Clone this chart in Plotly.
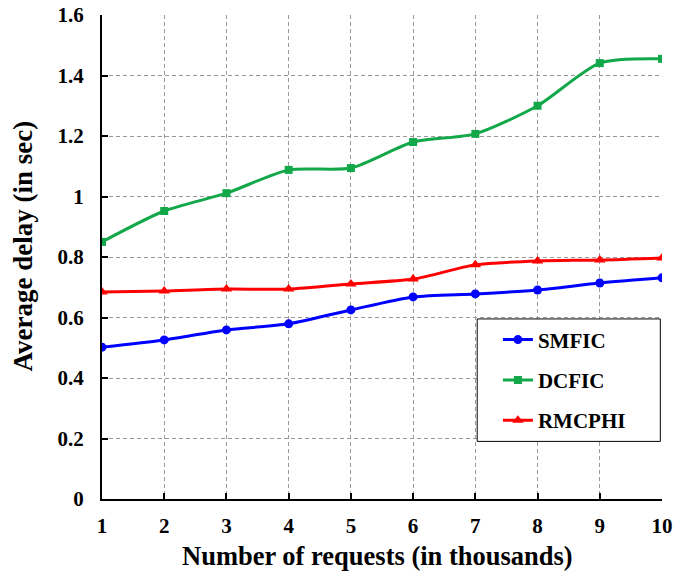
import plotly.graph_objects as go

requests_k = [1, 2, 3, 4, 5, 6, 7, 8, 9, 10]
smfic = [0.502, 0.526, 0.559, 0.579, 0.625, 0.668, 0.678, 0.691, 0.714, 0.731]
dcfic = [0.850, 0.952, 1.011, 1.088, 1.094, 1.180, 1.207, 1.300, 1.441, 1.455]
rmcphi = [0.684, 0.688, 0.694, 0.694, 0.711, 0.727, 0.774, 0.787, 0.790, 0.797]
y_ticks = [0, 0.2, 0.4, 0.6, 0.8, 1.0, 1.2, 1.4, 1.6]
y_tick_text = ["0", "0.2", "0.4", "0.6", "0.8", "1", "1.2", "1.4", "1.6"]

FONT = "Liberation Serif"

series = [
    ("SMFIC", smfic, "#0000ff", "circle", 9),
    ("DCFIC", dcfic, "#12a84a", "square", 8),
    ("RMCPHI", rmcphi, "#ff0000", "triangle-up", 10),
]

fig = go.Figure()
for name, vals, color, symbol, msize in series:
    fig.add_trace(go.Scatter(
        x=requests_k, y=vals, name=f"<b>{name}</b>", legendgroup=name,
        mode="lines+markers",
        line=dict(color=color, width=3, shape="spline", smoothing=0.7),
        marker=dict(symbol=symbol, size=msize, color=color),
    ))

# framed box behind the legend entries
fig.add_shape(
    type="rect", xref="paper", yref="paper",
    x0=0.67, x1=0.997, y0=0.119, y1=0.372,
    line=dict(color="black", width=1), fillcolor="white", layer="above",
)

# axis titles as annotations
fig.add_annotation(
    text="<b>Number of requests (in thousands)</b>",
    xref="paper", yref="paper", x=0.492, y=-0.118,
    xanchor="center", yanchor="middle", showarrow=False,
    font=dict(family=FONT, size=26.5, color="black"),
)
fig.add_annotation(
    text="<b>Average delay (in sec)</b>", textangle=-90,
    xref="paper", yref="paper", x=-0.141, y=0.522,
    xanchor="center", yanchor="middle", showarrow=False,
    font=dict(family=FONT, size=27, color="black"),
)

axis_font = dict(family=FONT, size=21, color="black")
grid_style = dict(showgrid=True, gridcolor="#9a9a9a", griddash="4px,3px", gridwidth=1)
fig.update_layout(
    width=691, height=572,
    margin=dict(l=102, r=29, t=15, b=73),
    paper_bgcolor="white", plot_bgcolor="white",
    font=dict(family=FONT, color="black"),
    showlegend=True,
    legend=dict(
        x=0.707, y=0.371, xanchor="left", yanchor="top",
        bgcolor="rgba(0,0,0,0)", borderwidth=0,
        font=dict(family=FONT, size=21, color="black"),
        tracegroupgap=10,
    ),
    xaxis=dict(
        range=[1, 10], tickvals=requests_k,
        ticktext=[f"<b>{v}</b>" for v in requests_k],
        tickfont=axis_font, ticks="inside", ticklen=6, tickwidth=2, tickcolor="black",
        ticklabelstandoff=7, automargin=False,
        showline=True, linecolor="black", linewidth=2,
        zeroline=False, **grid_style,
    ),
    yaxis=dict(
        range=[0, 1.6], tickvals=y_ticks,
        ticktext=[f"<b>{t}</b>" for t in y_tick_text],
        tickfont=axis_font, ticks="inside", ticklen=6, tickwidth=2, tickcolor="black",
        ticklabelstandoff=12, automargin=False,
        showline=True, linecolor="black", linewidth=2,
        zeroline=False, **grid_style,
    ),
)

fig.write_html("out.html")
